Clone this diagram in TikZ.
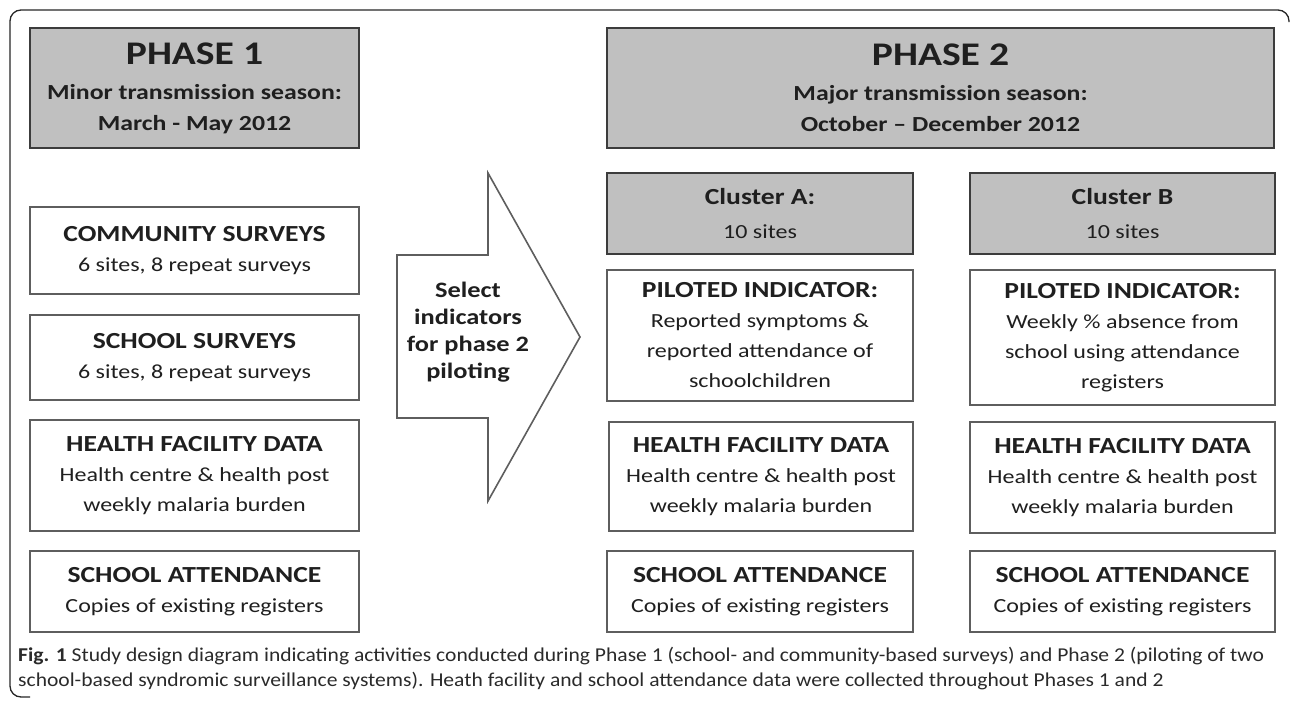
\documentclass[tikz,border=0pt]{standalone}
\usepackage{fontspec}
\setmainfont{Carlito}[FakeStretch=1.2]
\newfontfamily\capfont{Carlito}[FakeStretch=1.1]
\definecolor{txt}{HTML}{1F1F1F}
\definecolor{captxt}{HTML}{2A2A2A}
\definecolor{hdfill}{HTML}{C0C0C0}
\definecolor{hdline}{HTML}{3C3C3C}
\definecolor{bxline}{HTML}{5E5E5E}
\tikzset{
  hdbox/.style={draw=hdline, line width=2.6pt, fill=hdfill, text=txt, align=center, inner sep=0pt},
  wbox/.style={draw=bxline, line width=1.8pt, fill=white, text=txt, align=center, inner sep=0pt},
  tfont/.style={font=\fontsize{20}{30}\selectfont},
  arrowshape/.style={draw=bxline, line width=1.6pt, fill=white, line join=miter},
  frame/.style={draw=black!85, line width=1.3pt, rounded corners=11pt}
}
\newcommand\ttl[1]{{\bfseries\fontsize{23}{30}\selectfont #1}}
\begin{document}
\begin{tikzpicture}[x=1pt,y=-1pt]
\useasboundingbox (0,0) rectangle (1290,702);
% frame (top and left edges, as in the reference)
\coordinate (f1) at (1289,22);
\coordinate (f2) at (1289,10);
\coordinate (f3) at (10,10);
\coordinate (f4) at (10,697);
\coordinate (f5) at (30,697);
\draw[frame] (f1) -- (f2) -- (f3) -- (f4) -- (f5);

% Phase headers
\node[hdbox, font=\bfseries\fontsize{21.5}{31}\selectfont, minimum width=329pt, minimum height=120pt] (p1) at (194.5,88)
  {{\fontsize{33}{38}\selectfont PHASE 1}\\[4pt]
   Minor transmission season:\\
   March - May 2012};
\node[hdbox, font=\bfseries\fontsize{21.5}{31}\selectfont, minimum width=667pt, minimum height=120pt] (p2) at (940.5,88)
  {{\fontsize{33}{38}\selectfont PHASE 2}\\[4pt]
   Major transmission season:\\
   October -- December 2012};

% Phase 1 column
\node[wbox, tfont, minimum width=329pt, minimum height=87pt] (cs) at (194.5,250.5)
  {\ttl{COMMUNITY SURVEYS}\\ 6 sites, 8 repeat surveys};
\node[wbox, tfont, minimum width=329pt, minimum height=85pt] (ss) at (194.5,357.5)
  {\ttl{SCHOOL SURVEYS}\\ 6 sites, 8 repeat surveys};
\node[wbox, tfont, minimum width=329pt, minimum height=111pt] (hf1) at (194.5,475.5)
  {\ttl{HEALTH FACILITY DATA}\\ Health centre \& health post\\ weekly malaria burden};
\node[wbox, tfont, minimum width=329pt, minimum height=81pt] (sa1) at (194.5,591.5)
  {\ttl{SCHOOL ATTENDANCE}\\ Copies of existing registers};

% big arrow
\coordinate (a1) at (397,255);
\coordinate (a2) at (488,255);
\coordinate (a3) at (488,173);
\coordinate (a4) at (580,337);
\coordinate (a5) at (488,501);
\coordinate (a6) at (488,418);
\coordinate (a7) at (397,418);
\draw[arrowshape] (a1) -- (a2) -- (a3) -- (a4) -- (a5) -- (a6) -- (a7) -- cycle;
\node[text=txt, align=center, font=\bfseries\fontsize{22}{27}\selectfont] (sel) at (468,332)
  {Select\\ indicators\\ for phase 2\\ piloting};

% Cluster A
\node[hdbox, font=\fontsize{20}{34}\selectfont, minimum width=306pt, minimum height=81pt] (ca) at (760,213.5)
  {\ttl{Cluster A:}\\ 10 sites};
\node[wbox, tfont, minimum width=306pt, minimum height=131pt] (pa) at (760,335.5)
  {\ttl{PILOTED INDICATOR:}\\ Reported symptoms \&\\ reported attendance of\\ schoolchildren};
\node[wbox, tfont, minimum width=304pt, minimum height=109pt] (hfa) at (761,476.5)
  {\ttl{HEALTH FACILITY DATA}\\ Health centre \& health post\\ weekly malaria burden};
\node[wbox, tfont, minimum width=306pt, minimum height=81pt] (saa) at (760,591.5)
  {\ttl{SCHOOL ATTENDANCE}\\ Copies of existing registers};

% Cluster B
\node[hdbox, font=\fontsize{20}{34}\selectfont, minimum width=305pt, minimum height=81pt] (cb) at (1122.5,213.5)
  {\ttl{Cluster B}\\ 10 sites};
\node[wbox, tfont, minimum width=305pt, minimum height=135pt] (pb) at (1122.5,337.5)
  {\ttl{PILOTED INDICATOR:}\\ Weekly \% absence from\\ school using attendance\\ registers};
\node[wbox, tfont, minimum width=305pt, minimum height=111pt] (hfb) at (1122.5,477.5)
  {\ttl{HEALTH FACILITY DATA}\\ Health centre \& health post\\ weekly malaria burden};
\node[wbox, tfont, minimum width=305pt, minimum height=81pt] (sab) at (1122.5,591.5)
  {\ttl{SCHOOL ATTENDANCE}\\ Copies of existing registers};

% caption
\node[anchor=west, text=captxt, font=\capfont\fontsize{19.6}{25}\selectfont, inner sep=0pt] (cap1) at (18,656)
  {\textbf{Fig. 1} Study design diagram indicating activities conducted during Phase 1 (school- and community-based surveys) and Phase 2 (piloting of two};
\node[anchor=west, text=captxt, font=\capfont\fontsize{19.6}{25}\selectfont, inner sep=0pt] (cap2) at (18,681)
  {school-based syndromic surveillance systems). Heath facility and school attendance data were collected throughout Phases 1 and 2};
\end{tikzpicture}
\end{document}
